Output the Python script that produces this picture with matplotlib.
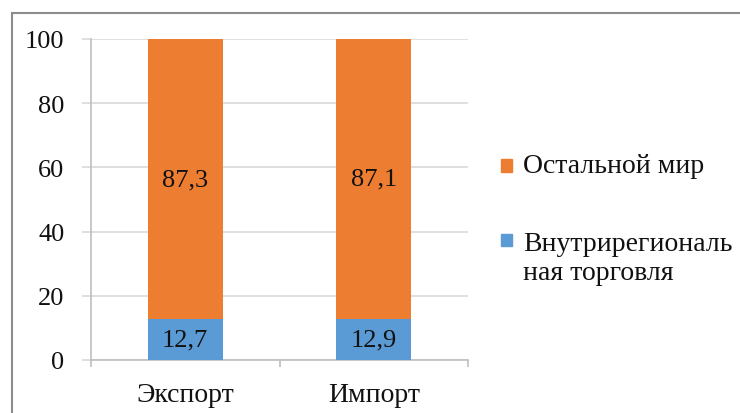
import matplotlib
matplotlib.use("Agg")
import matplotlib.pyplot as plt
from matplotlib.patches import Rectangle
import numpy as np

categories = ["Экспорт", "Импорт"]
intra = [12.7, 12.9]
rest = [87.3, 87.1]
series_names = ["Остальной мир", "Внутрирегиональ\nная торговля"]
yticks = [0, 20, 40, 60, 80, 100]

plt.rcParams['font.family'] = ['Liberation Serif', 'DejaVu Serif']

C_ORANGE = "#ED7D31"
C_BLUE = "#5B9BD5"
GRID = "#d9d9d9"
AXIS = "#bfbfbf"
TXT = "#111111"

fig = plt.figure(figsize=(7.4, 4.14), dpi=100)
ax = fig.add_axes([91/740, 1-361/414, (468-91)/740, (361-40)/414])

x = np.arange(len(categories))
w = 0.4
ax.bar(x, intra, width=w, color=C_BLUE, zorder=3)
ax.bar(x, rest, width=w, bottom=intra, color=C_ORANGE, zorder=3)

for xi, a, b in zip(x, intra, rest):
    ax.text(xi, a/2, f"{a}".replace(".", ","), ha="center", va="center", fontsize=19, color=TXT, zorder=4)
    ax.text(xi, a + b/2, f"{b}".replace(".", ","), ha="center", va="center", fontsize=19, color=TXT, zorder=4)

ax.set_xlim(-0.5, len(categories)-0.5)
ax.set_ylim(0, 100)
ax.set_yticks(yticks)
ax.set_yticklabels([str(t) for t in yticks], fontsize=19, color=TXT)
ax.yaxis.grid(True, color=GRID, linewidth=1.2, zorder=0)
ax.tick_params(axis="y", length=6.5, width=1.2, color=GRID, pad=12.5)

ax.set_xticks(x)
ax.set_xticklabels(categories, fontsize=20, color=TXT)
ax.tick_params(axis="x", length=0, pad=16)
ax.set_xticks(np.arange(-0.5, len(categories)), minor=True)
ax.tick_params(axis="x", which="minor", length=5, width=1.2, color=AXIS)

for s in ["top", "right"]:
    ax.spines[s].set_visible(False)
ax.spines["left"].set_color(AXIS)
ax.spines["left"].set_linewidth(1.2)
ax.spines["bottom"].set_color(AXIS)
ax.spines["bottom"].set_linewidth(1.2)

# legend (manual)
H = 414
fig.patches.append(Rectangle((501/740, 1-173/H), 11/740, 13/H, transform=fig.transFigure, color=C_ORANGE))
fig.text(523/740, 1-167/H, series_names[0], fontsize=20, va="center", ha="left", color=TXT)
fig.patches.append(Rectangle((501/740, 1-247/H), 11/740, 12/H, transform=fig.transFigure, color=C_BLUE))
fig.text(523/740, 1-259/H, series_names[1], fontsize=20, va="center", ha="left", color=TXT, linespacing=1.2)

# outer border
fig.patches.append(Rectangle((12/740, -0.1), 1.2, 1-14/H+0.1, transform=fig.transFigure,
                             fill=False, edgecolor="#8c8c8c", linewidth=1.5))

fig.savefig("out.png", dpi=100)
